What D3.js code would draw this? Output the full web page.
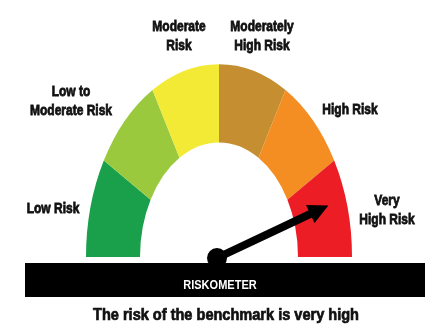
<!DOCTYPE html>
<html>
<head>
<meta charset="utf-8">
<script src="https://cdn.jsdelivr.net/npm/d3@7"></script>
<style>
  html, body { margin: 0; padding: 0; background: #fff; }
  svg { display: block; filter: blur(0.6px); }
</style>
</head>
<body>
<script>
// Risk levels of the riskometer, left to right
const riskLevels = ["Low Risk", "Low to Moderate Risk", "Moderate Risk",
                    "Moderately High Risk", "High Risk", "Very High Risk"];
// Label text broken into lines
const labelLines = [["Low Risk"], ["Low to", "Moderate Risk"], ["Moderate", "Risk"],
                    ["Moderately", "High Risk"], ["High Risk"], ["Very", "High Risk"]];
// One band weight per level (all bands equal)
const bandWeights = [1, 1, 1, 1, 1, 1];
const bandColors = ["#1a9f4b", "#9bc93d", "#f3ea36", "#c58f31", "#f48d22", "#ec1d25"];
// Needle reading on the 0..6 level scale
const benchmarkReading = 5.4;
const barTitle = "RISKOMETER";
const caption = "The risk of the benchmark is very high";

// Layout
const W = 436, H = 327;
const cx = 219, cy = 257;
const rOuter = 133, rInner = 79, yStretch = 1.45;
const labelPos = [[53, 213], [71, 96], [179, 31], [262, 31], [350, 114], [387, 205]];

const svg = d3.select("body").append("svg").attr("width", W).attr("height", H);

// Scale from level reading to gauge angle
const angle = d3.scaleLinear().domain([0, riskLevels.length]).range([-Math.PI / 2, Math.PI / 2]);

const pie = d3.pie().sort(null).value(d => d)
  .startAngle(angle(0)).endAngle(angle(riskLevels.length));
const arc = d3.arc().innerRadius(rInner).outerRadius(rOuter);

const gauge = svg.append("g").attr("transform", `translate(${cx},${cy}) scale(1,${yStretch})`);
gauge.selectAll("path").data(pie(bandWeights)).join("path")
  .attr("d", arc)
  .attr("fill", (d, i) => bandColors[i]);

// Level labels
const labels = svg.append("g")
  .attr("font-family", "'Liberation Sans', Arial, sans-serif")
  .attr("font-weight", "bold").attr("font-size", 15)
  .attr("fill", "#111").attr("stroke", "#111").attr("stroke-width", 0.8)
  .attr("text-anchor", "middle");
labels.selectAll("text").data(labelLines).join("text")
  .attr("transform", (d, i) => `translate(${labelPos[i][0]},${labelPos[i][1]}) scale(0.8,1)`)
  .selectAll("tspan").data(d => d).join("tspan")
  .attr("x", 0).attr("dy", (d, j) => j === 0 ? 0 : 19.5)
  .text(d => d);

// Needle
const a = angle(benchmarkReading);
const rNeedle = 115;
const tip = [cx + rNeedle * Math.sin(a), cy - rNeedle * Math.cos(a) * yStretch];
const dx = tip[0] - cx, dy = tip[1] - cy, len = Math.hypot(dx, dy);
const u = [dx / len, dy / len], n = [-u[1], u[0]];
const headLen = 20, headHalf = 10;
const base = [tip[0] - headLen * u[0], tip[1] - headLen * u[1]];

svg.append("line")
  .attr("x1", cx - 2).attr("y1", cy + 1)
  .attr("x2", base[0] + 2 * u[0]).attr("y2", base[1] + 2 * u[1])
  .attr("stroke", "#000").attr("stroke-width", 8);
svg.append("path")
  .attr("d", d3.line()([tip,
    [base[0] + headHalf * n[0], base[1] + headHalf * n[1]],
    [base[0] - headHalf * n[0], base[1] - headHalf * n[1]]]) + "Z")
  .attr("fill", "#000");
svg.append("circle").attr("cx", cx - 2).attr("cy", cy + 1).attr("r", 10).attr("fill", "#000");

// Title bar
svg.append("rect").attr("x", 25).attr("y", 263).attr("width", 400).attr("height", 34).attr("fill", "#000");
svg.append("text")
  .attr("transform", `translate(220,289) scale(0.92,1)`)
  .attr("text-anchor", "middle")
  .attr("font-family", "'Liberation Sans', Arial, sans-serif")
  .attr("font-weight", "bold").attr("font-size", 12)
  .attr("fill", "#fff")
  .text(barTitle);

// Caption
svg.append("text")
  .attr("transform", `translate(226,320) scale(0.91,1)`)
  .attr("text-anchor", "middle")
  .attr("font-family", "'Liberation Sans', Arial, sans-serif")
  .attr("font-weight", "bold").attr("font-size", 16)
  .attr("fill", "#111").attr("stroke", "#111").attr("stroke-width", 0.7)
  .text(caption);
</script>
</body>
</html>
